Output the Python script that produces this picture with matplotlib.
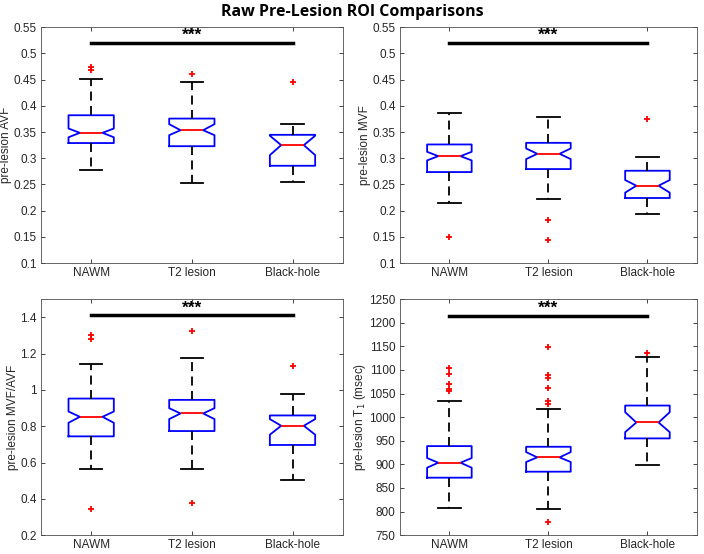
import numpy as np
import matplotlib.pyplot as plt
from matplotlib.ticker import FuncFormatter

plt.rcParams['font.family'] = ['Liberation Sans', 'DejaVu Sans']

groups = ['NAWM', 'T2 lesion', 'Black-hole']

# box stats per panel: med, q1, q3, notch lo/hi, whisker lo/hi, outliers
avf_med = [0.3485, 0.3535, 0.325]
avf_q1 = [0.329, 0.323, 0.2857]
avf_q3 = [0.382, 0.3757, 0.3447]
avf_cilo = [0.340, 0.344, 0.306]
avf_cihi = [0.3567, 0.365, 0.343]
avf_wlo = [0.2768, 0.2534, 0.2553]
avf_whi = [0.4518, 0.4454, 0.366]
avf_out = [[0.474, 0.468], [0.46], [0.4454]]

mvf_med = [0.304, 0.3085, 0.2477]
mvf_q1 = [0.2737, 0.2794, 0.2242]
mvf_q3 = [0.3263, 0.3294, 0.2762]
mvf_cilo = [0.2959, 0.2984, 0.2344]
mvf_cihi = [0.3123, 0.3187, 0.2585]
mvf_wlo = [0.2154, 0.2217, 0.1938]
mvf_whi = [0.3858, 0.3782, 0.3028]
mvf_out = [[0.1494], [0.1824, 0.1444], [0.3757]]

ratio_med = [0.852, 0.8703, 0.8027]
ratio_q1 = [0.7443, 0.7735, 0.6968]
ratio_q3 = [0.9525, 0.9452, 0.8594]
ratio_cilo = [0.819, 0.8393, 0.7534]
ratio_cihi = [0.881, 0.8995, 0.8393]
ratio_wlo = [0.5653, 0.5635, 0.5032]
ratio_whi = [1.1443, 1.1735, 0.9781]
ratio_out = [[1.305, 1.281, 0.346], [1.327, 0.377], [1.1333]]

t1_med = [903.5, 914.8, 988.7]
t1_q1 = [871.8, 884.5, 955.0]
t1_q3 = [938.7, 937.3, 1024.6]
t1_cilo = [892.9, 905.0, 968.3]
t1_cihi = [913.4, 926.0, 1010.6]
t1_wlo = [808.5, 806.3, 897.9]
t1_whi = [1035.2, 1017.6, 1126.8]
t1_out = [[1105, 1091, 1071, 1059, 1056],
          [1149, 1089, 1084, 1061, 1034, 1028, 777],
          [1136.6]]

def make_stats(med, q1, q3, cilo, cihi, wlo, whi, out):
    stats = []
    for i in range(len(med)):
        stats.append(dict(med=med[i], q1=q1[i], q3=q3[i], cilo=cilo[i], cihi=cihi[i],
                          whislo=wlo[i], whishi=whi[i], fliers=out[i], label=groups[i]))
    return stats

panels = [
    (make_stats(avf_med, avf_q1, avf_q3, avf_cilo, avf_cihi, avf_wlo, avf_whi, avf_out),
     'pre-lesion AVF', (0.1, 0.55), np.arange(0.1, 0.551, 0.05), 0.52),
    (make_stats(mvf_med, mvf_q1, mvf_q3, mvf_cilo, mvf_cihi, mvf_wlo, mvf_whi, mvf_out),
     'pre-lesion MVF', (0.1, 0.55), np.arange(0.1, 0.551, 0.05), 0.52),
    (make_stats(ratio_med, ratio_q1, ratio_q3, ratio_cilo, ratio_cihi, ratio_wlo, ratio_whi, ratio_out),
     'pre-lesion MVF/AVF', (0.2, 1.5), np.arange(0.2, 1.41, 0.2), 1.41),
    (make_stats(t1_med, t1_q1, t1_q3, t1_cilo, t1_cihi, t1_wlo, t1_whi, t1_out),
     'pre-lesion T$_1$ (msec)', (750, 1250), np.arange(750, 1251, 50), 1215),
]

positions = [
    [0.058, 0.525, 0.429, 0.426],
    [0.568, 0.525, 0.422, 0.426],
    [0.058, 0.034, 0.429, 0.426],
    [0.568, 0.034, 0.422, 0.426],
]

fig = plt.figure(figsize=(7.04, 5.54), dpi=100)
fig.text(0.5, 0.978, 'Raw Pre-Lesion ROI Comparisons', ha='center', va='center',
         fontsize=11.5, fontweight='bold', family='Open Sans')

for (stats, ylabel, ylim, yticks, sig_y), pos in zip(panels, positions):
    ax = fig.add_axes(pos)
    ax.bxp(stats, positions=[1, 2, 3], widths=0.45, shownotches=True,
           boxprops=dict(color='#0000ff', linewidth=1.3),
           medianprops=dict(color='#ff0000', linewidth=1.3),
           whiskerprops=dict(color='black', linewidth=1.3, linestyle=(0, (5, 3))),
           capprops=dict(color='black', linewidth=1.3),
           flierprops=dict(marker='+', markeredgecolor='#ff0000', markersize=5,
                           markeredgewidth=1.3, linestyle='none'))
    ax.plot([1, 3], [sig_y, sig_y], color='black', linewidth=2.5)
    ax.text(2, sig_y, '***', ha='center', va='bottom', fontsize=12.5, fontweight='bold')
    ax.set_xlim(0.5, 3.5)
    ax.set_ylim(*ylim)
    ax.set_yticks(yticks)
    ax.yaxis.set_major_formatter(FuncFormatter(lambda v, p: '%g' % round(v, 4)))
    ax.set_xticks([1, 2, 3])
    ax.set_xticklabels(groups)
    ax.set_ylabel(ylabel, fontsize=8.5, color='#262626', labelpad=1)
    ax.tick_params(direction='in', top=True, right=True, labelsize=8.5,
                   colors='#262626', length=3, width=0.6, pad=3)
    for s in ax.spines.values():
        s.set_color('#4d4d4d')
        s.set_linewidth(0.6)

fig.savefig('out.png', dpi=100)
